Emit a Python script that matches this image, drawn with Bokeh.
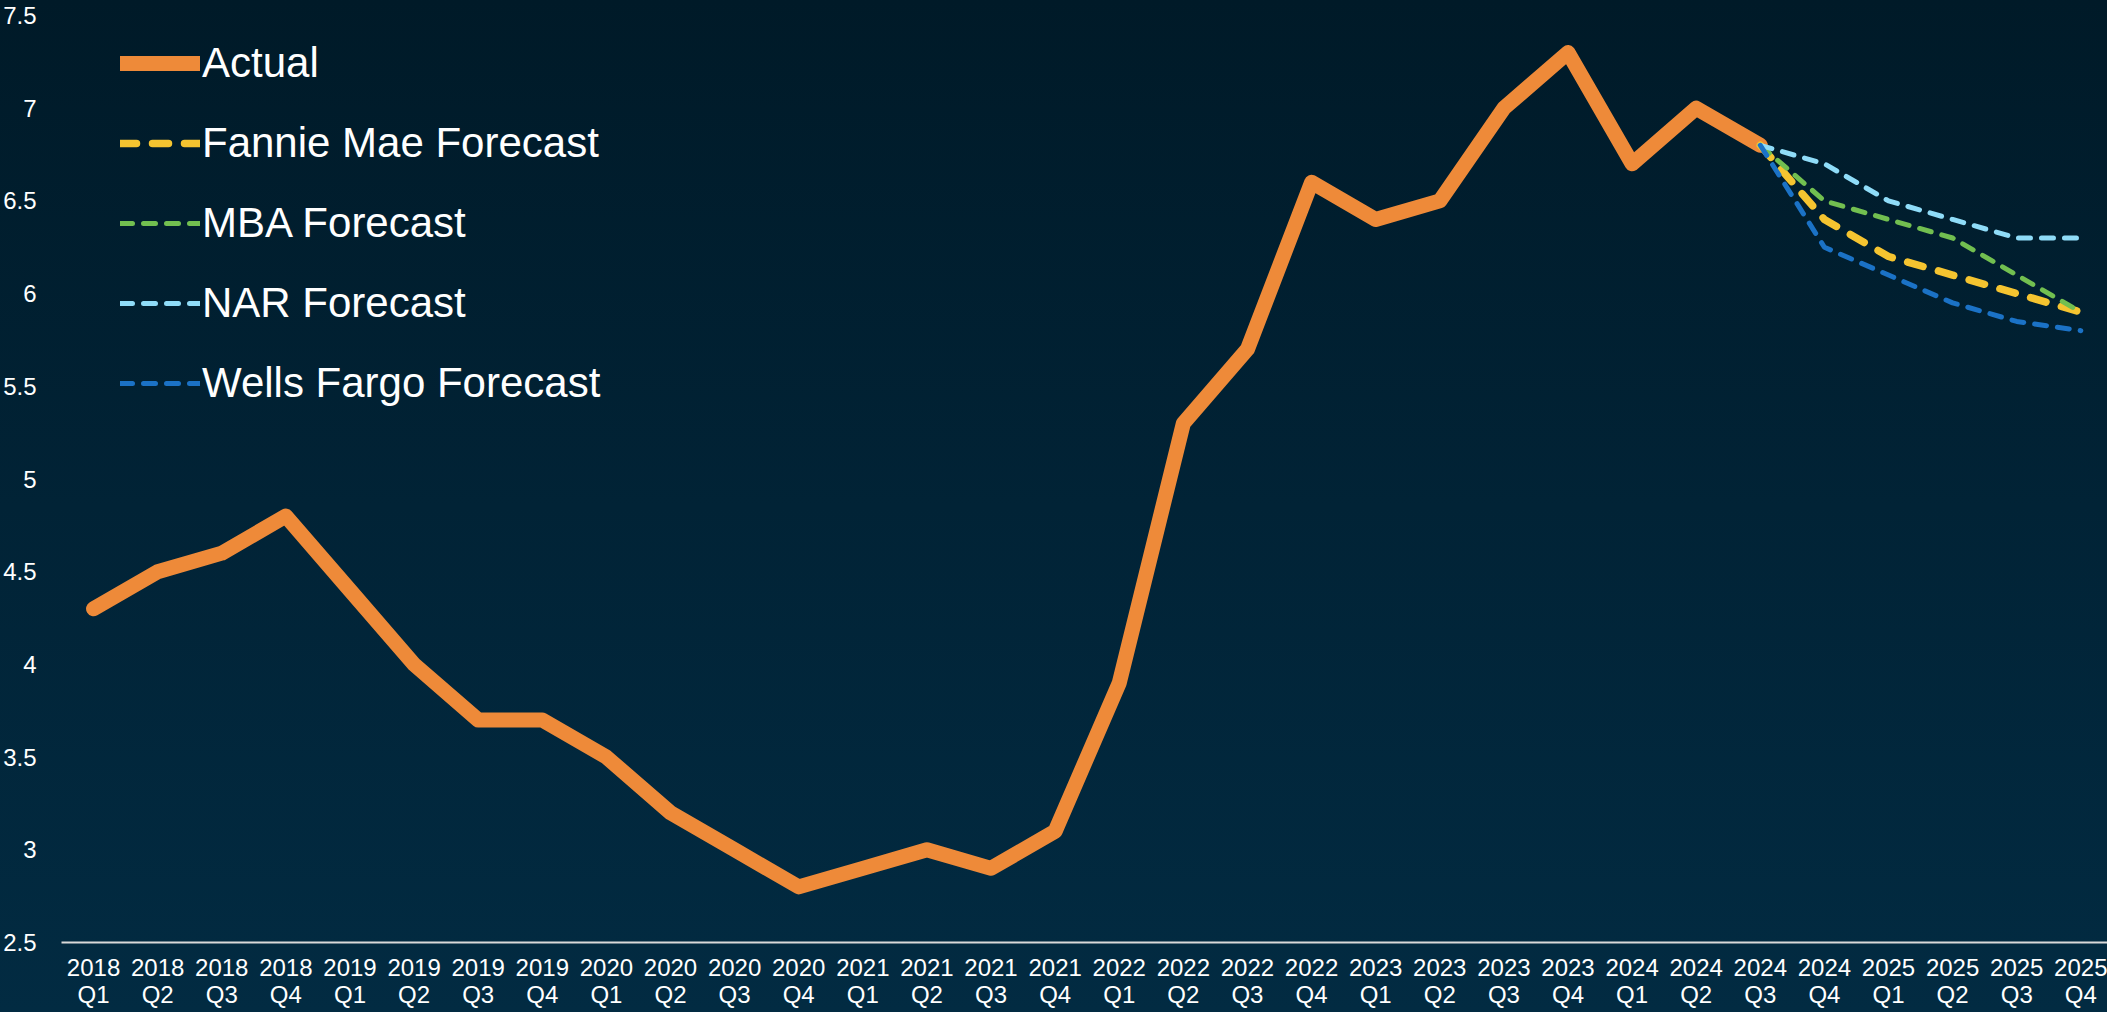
from bokeh.plotting import figure
from bokeh.models import Range1d, FixedTicker, Legend, LegendItem
from bokeh.embed import file_html
from bokeh.resources import INLINE

# ---------------- data ----------------
quarters = [
    "2018\nQ1", "2018\nQ2", "2018\nQ3", "2018\nQ4",
    "2019\nQ1", "2019\nQ2", "2019\nQ3", "2019\nQ4",
    "2020\nQ1", "2020\nQ2", "2020\nQ3", "2020\nQ4",
    "2021\nQ1", "2021\nQ2", "2021\nQ3", "2021\nQ4",
    "2022\nQ1", "2022\nQ2", "2022\nQ3", "2022\nQ4",
    "2023\nQ1", "2023\nQ2", "2023\nQ3", "2023\nQ4",
    "2024\nQ1", "2024\nQ2", "2024\nQ3", "2024\nQ4",
    "2025\nQ1", "2025\nQ2", "2025\nQ3", "2025\nQ4",
]
actual = [4.3, 4.5, 4.6, 4.8, 4.4, 4.0, 3.7, 3.7, 3.5, 3.2, 3.0, 2.8,
          2.9, 3.0, 2.9, 3.1, 3.9, 5.3, 5.7, 6.6, 6.4, 6.5, 7.0, 7.3,
          6.7, 7.0, 6.8]
forecast_start = 26  # 2024 Q3
fannie_mae = [6.8, 6.4, 6.2, 6.1, 6.0, 5.9]
mba = [6.8, 6.5, 6.4, 6.3, 6.1, 5.9]
nar = [6.8, 6.7, 6.5, 6.4, 6.3, 6.3]
wells_fargo = [6.8, 6.25, 6.1, 5.95, 5.85, 5.8]
y_ticks = [2.5, 3, 3.5, 4, 4.5, 5, 5.5, 6, 6.5, 7, 7.5]
y_tick_labels = ["2.5", "3", "3.5", "4", "4.5", "5", "5.5", "6", "6.5", "7", "7.5"]

# ---------------- figure ----------------
W, H = 2107, 1012
LB, RB, TB, BB = 58, 0, 15, 70
frame_w = W - LB - RB
frame_h = H - TB - BB
step_px = 64.2

x_idx = list(range(len(quarters)))
p = figure(width=W, height=H, output_backend="svg", toolbar_location=None,
           x_range=Range1d(-0.5, -0.5 + frame_w / step_px),
           y_range=Range1d(2.5, 7.5),
           min_border_left=LB, min_border_right=RB,
           min_border_top=TB, min_border_bottom=BB)
p.styles = {"background-image": "linear-gradient(180deg, #001a28 0%, #012336 50%, #022b42 100%)"}
p.background_fill_alpha = 0
p.border_fill_alpha = 0
p.outline_line_color = None
p.grid.visible = False

font = "Liberation Sans"
ax = p.xaxis[0]
ax.ticker = FixedTicker(ticks=x_idx)
ax.major_label_overrides = {i: q for i, q in zip(x_idx, quarters)}
ax.major_label_text_color = "#ffffff"
ax.major_label_text_font = font
ax.major_label_text_font_size = "24px"
ax.major_label_text_line_height = 1.0
ax.major_label_standoff = 11
ax.axis_line_color = "#d9d9d9"
ax.axis_line_width = 2
ax.major_tick_line_color = None
ax.minor_tick_line_color = None
ax.major_tick_out = 0
ax.major_tick_in = 0
ax.minor_tick_out = 0
ax.minor_tick_in = 0

ay = p.yaxis[0]
ay.ticker = FixedTicker(ticks=y_ticks)
ay.major_label_overrides = {t: l for t, l in zip(y_ticks, y_tick_labels)}
ay.major_label_text_color = "#ffffff"
ay.major_label_text_font = font
ay.major_label_text_font_size = "24px"
ay.major_label_standoff = 25
ay.axis_line_color = None
ay.major_tick_line_color = None
ay.minor_tick_line_color = None
ay.major_tick_out = 0
ay.major_tick_in = 0
ay.minor_tick_out = 0
ay.minor_tick_in = 0

fx = x_idx[forecast_start:forecast_start + len(fannie_mae)]

r_act = p.line(x_idx[:len(actual)], actual, line_color="#ee8a39", line_width=15,
               line_cap="round", line_join="round")
r_fm = p.line(fx, fannie_mae, line_color="#f5c430", line_width=7.5,
              line_dash="16 16", line_cap="round", line_join="round")
r_mba = p.line(fx, mba, line_color="#72bf50", line_width=5,
               line_dash="12 11", line_cap="round", line_join="round")
r_nar = p.line(fx, nar, line_color="#8fdcf8", line_width=5,
               line_dash="12 11", line_cap="round", line_join="round")
r_wf = p.line(fx, wells_fargo, line_color="#1b72c6", line_width=5,
              line_dash="12 11", line_cap="round", line_join="round")

legend = Legend(items=[
    LegendItem(label="Actual", renderers=[r_act]),
    LegendItem(label="Fannie Mae Forecast", renderers=[r_fm]),
    LegendItem(label="MBA Forecast", renderers=[r_mba]),
    LegendItem(label="NAR Forecast", renderers=[r_nar]),
    LegendItem(label="Wells Fargo Forecast", renderers=[r_wf]),
])
row_h = 80
legend.glyph_width = 80
legend.glyph_height = row_h
legend.spacing = 0
legend.padding = 0
legend.margin = 0
legend.label_standoff = 2
legend.label_text_color = "#ffffff"
legend.label_text_font = font
legend.label_text_font_size = "42px"
legend.label_text_baseline = "middle"
legend.background_fill_alpha = 0
legend.border_line_color = None
legend.location = (59, frame_h - 8 - 5 * row_h)
p.add_layout(legend, "center")

open("out.html", "w").write(file_html(p, INLINE))
